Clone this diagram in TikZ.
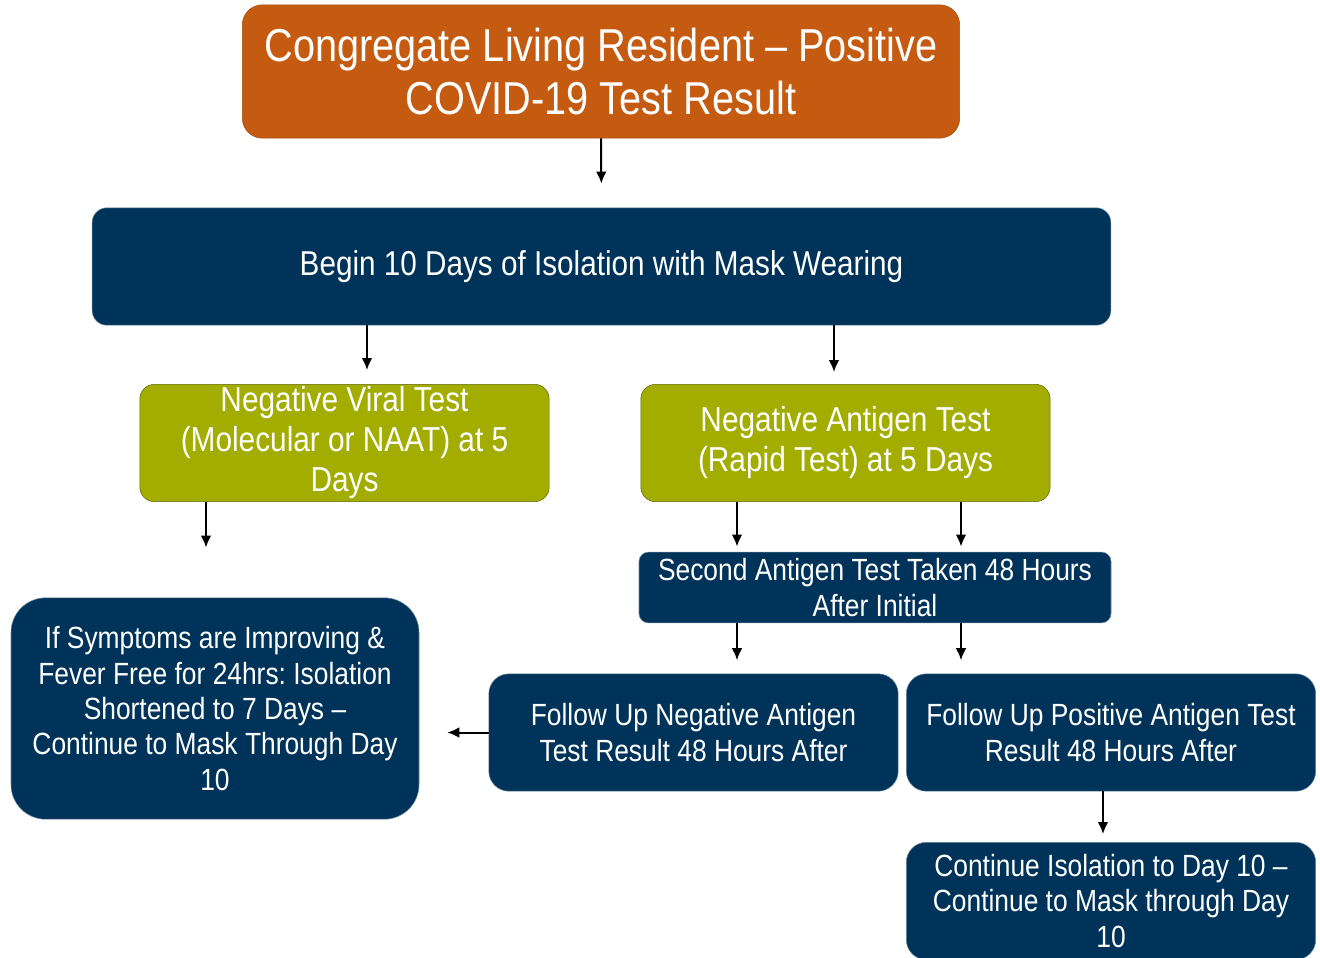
\documentclass[tikz,border=0pt]{standalone}
\usepackage{fontspec}
\setmainfont[FakeStretch=0.86]{Liberation Sans}
\usepackage{xcolor}
\usetikzlibrary{positioning, arrows.meta}
\definecolor{rust}{HTML}{C55A11}
\definecolor{navyblue}{HTML}{003359}
\definecolor{moss}{HTML}{A2AD00}
\frenchspacing

\begin{document}
\begin{tikzpicture}[x=0.75pt, y=-0.75pt,
		head/.style={rectangle, draw=rust!85!black, fill=rust, text=white, rounded corners=15pt, align=center, inner sep=0pt, font=\fontsize{34.6pt}{40pt}\selectfont},
		step1/.style={rectangle, draw=navyblue!60, fill=navyblue, text=white, align=center, inner sep=0pt, font=\fontsize{23pt}{26.5pt}\selectfont},
		test/.style={rectangle, draw=moss!60!black, fill=moss, text=white, rounded corners=11pt, align=center, inner sep=0pt, font=\fontsize{26pt}{30pt}\selectfont},
		arr/.style={-{Latex[length=9pt, width=8pt]}, line width=1.5pt},
		]
		\useasboundingbox (0,0) rectangle (1320,957);
		
		\node[head, minimum width=538pt, minimum height=100pt] (pos) at (601, 71.5) {Congregate Living Resident -- Positive\\COVID-19 Test Result};
		\node[step1, rounded corners=11pt, minimum width=764pt, minimum height=88pt, font=\fontsize{25.9pt}{30pt}\selectfont] (iso) at (601.5, 266.5) {Begin 10 Days of Isolation with Mask Wearing};
		
		\node[test, minimum width=307pt, minimum height=88pt] (viral) at (344.5, 443) {Negative Viral Test\\(Molecular or NAAT) at 5\\Days};
		\node[test, minimum width=307pt, minimum height=88pt] (antigen) at (845.5, 443) {Negative Antigen Test\\(Rapid Test) at 5 Days};
		
		\node[step1, rounded corners=7pt, minimum width=354pt, minimum height=53pt, font=\fontsize{23pt}{27pt}\selectfont] (second) at (875, 587.5) {Second Antigen Test Taken 48 Hours\\After Initial};
		\node[step1, rounded corners=26pt, minimum width=306pt, minimum height=166pt] (short) at (215, 708.5) {If Symptoms are Improving \&\\Fever Free for 24hrs: Isolation\\Shortened to 7 Days --\\Continue to Mask Through Day\\10};
		\node[step1, rounded corners=15pt, minimum width=307pt, minimum height=88pt] (fneg) at (693.5, 732.5) {Follow Up Negative Antigen\\Test Result 48 Hours After};
		\node[step1, rounded corners=15pt, minimum width=307pt, minimum height=88pt] (fpos) at (1111, 732.5) {Follow Up Positive Antigen Test\\Result 48 Hours After};
		\node[step1, rounded corners=15pt, minimum width=307pt, minimum height=88pt] (cont) at (1111, 901) {Continue Isolation to Day 10 --\\Continue to Mask through Day\\10};
		
		\draw[arr, shorten >=18pt] (pos.south) to (iso.north);
		\draw[arr, shorten >=10.5pt] (iso.south -| 367,0) to (viral.north -| 367,0);
		\draw[arr, shorten >=9pt] (iso.south -| 834,0) to (antigen.north -| 834,0);
		\draw[arr, shorten >=37.5pt] (viral.south -| 206,0) to (short.north -| 206,0);
		\foreach \xx in {737,961} {
			\draw[arr, shorten >=4pt] (antigen.south -| \xx,0) to (second.north -| \xx,0);
		}
		\draw[arr, shorten >=10pt] (second.south -| 737,0) to (fneg.north -| 737,0);
		\draw[arr, shorten >=10pt] (second.south -| 961,0) to (fpos.north -| 961,0);
		\draw[arr, shorten >=21pt] (fneg.west) to (short.east |- fneg.west);
		\draw[arr, shorten >=6pt] (fpos.south -| 1103,0) to (cont.north -| 1103,0);
\end{tikzpicture}
\end{document}
